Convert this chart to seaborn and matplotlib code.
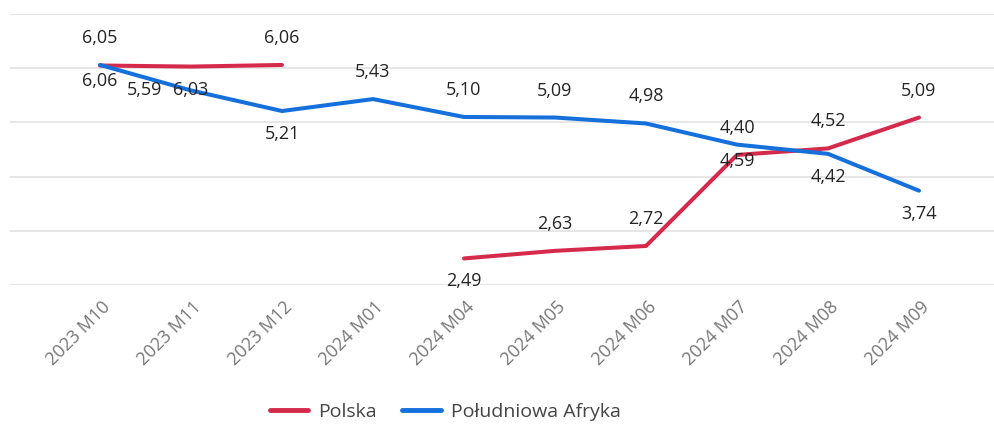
import matplotlib
matplotlib.use("Agg")
import matplotlib.pyplot as plt
import matplotlib.transforms as mtransforms
import seaborn as sns
import numpy as np
import pandas as pd

# ---- data ----
months = ["2023 M10", "2023 M11", "2023 M12", "2024 M01", "2024 M04",
          "2024 M05", "2024 M06", "2024 M07", "2024 M08", "2024 M09"]
polska = [6.05, 6.03, 6.06, np.nan, 2.49, 2.63, 2.72, 4.40, 4.52, 5.09]
afryka = [6.06, 5.59, 5.21, 5.43, 5.10, 5.09, 4.98, 4.59, 4.42, 3.74]
series_names = ["Polska", "Południowa Afryka"]

# label placement per point (style only)
pos_polska = ["above", "below", "above", None, "below",
              "above", "above", "above", "above", "above"]
pos_afryka = ["below_close", "left", "below", "above", "above",
              "above", "above", "below_close", "below", "below"]

COLORS = {"Polska": "#D62A4C", "Południowa Afryka": "#1570DC"}

sns.set_style("white")
plt.rcParams["font.family"] = ["Open Sans", "DejaVu Sans"]

frames = []
for name, vals in zip(series_names, [polska, afryka]):
    v = np.array(vals, dtype=float)
    seg = np.cumsum(np.isnan(v))
    frames.append(pd.DataFrame({"x": np.arange(len(months)), "value": v,
                                "series": name, "seg": seg}))
df = pd.concat(frames).dropna(subset=["value"])
df["unit"] = df["series"] + df["seg"].astype(str)

fig = plt.figure(figsize=(9.94, 4.24), dpi=100)
ax = fig.add_axes([10 / 994, 1 - 285 / 424, 1 - 10 / 994, (285 - 14) / 424])

sns.lineplot(data=df, x="x", y="value", hue="series", units="unit",
             estimator=None, hue_order=series_names, palette=COLORS,
             linewidth=2.9, legend=False, ax=ax, solid_capstyle="round")

ax.set_xlim((10 - 100) / 91, (994 - 100) / 91)
ax.set_ylim(2, 7)
ax.set_yticks(range(2, 8))
ax.set_yticklabels([])
ax.tick_params(axis="y", length=0)
ax.grid(axis="y", color="#E1E1E1", linewidth=1.2)
ax.set_axisbelow(True)
for s in ax.spines.values():
    s.set_visible(False)
ax.set_xlabel("")
ax.set_ylabel("")

ax.set_xticks(range(len(months)))
ax.set_xticklabels(months, rotation=45, ha="right", va="center",
                   rotation_mode="anchor", color="#777777", fontsize=13)
ax.tick_params(axis="x", length=0, pad=14)
shift = mtransforms.ScaledTranslation(8 / 100, 0, fig.dpi_scale_trans)
for lab in ax.get_xticklabels():
    lab.set_transform(lab.get_transform() + shift)

offsets = {"above": (0, 27), "below": (0, -23), "below_close": (0, -16),
           "left": (-46, 0)}
for vals, poss in [(polska, pos_polska), (afryka, pos_afryka)]:
    for i, (v, p) in enumerate(zip(vals, poss)):
        if p is None or np.isnan(v):
            continue
        dx, dy = offsets[p]
        tr = ax.transData + mtransforms.ScaledTranslation(dx / 100, dy / 100, fig.dpi_scale_trans)
        ax.text(i, v, f"{v:.2f}".replace(".", ","),
                transform=tr, ha="center", va="center", fontsize=13, color="#252423")

handles = [plt.Line2D([], [], color=COLORS[n], linewidth=3.5) for n in series_names]
fig.legend(handles, series_names, loc="center", bbox_to_anchor=(445 / 994, 1 - 412 / 424),
           ncol=2, frameon=False, fontsize=14, handlelength=2.0, handletextpad=0.5,
           columnspacing=1.3, labelcolor="#444444")

fig.savefig("out.png", dpi=100)
